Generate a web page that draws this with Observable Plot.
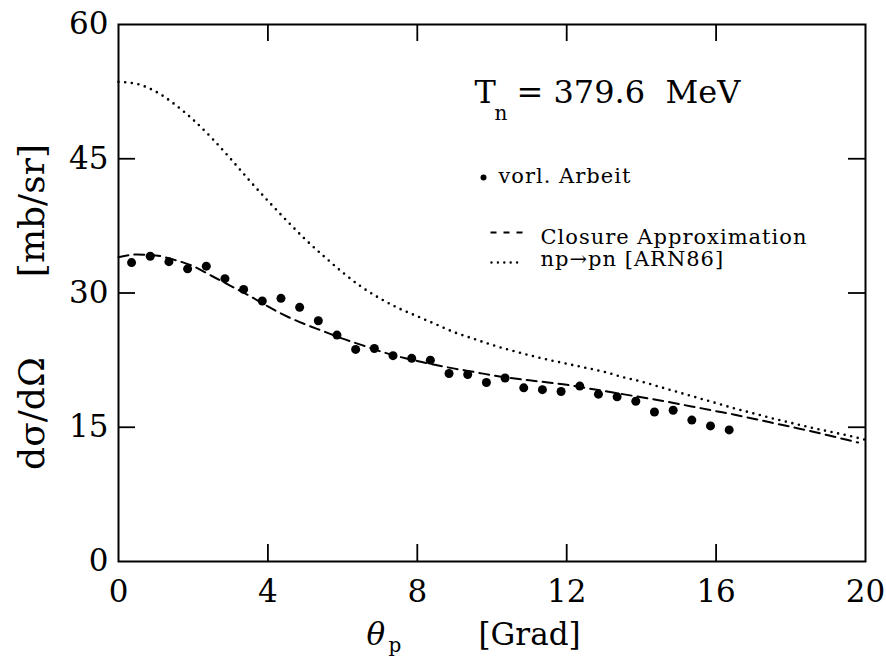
<!DOCTYPE html>
<html>
<head>
<meta charset="utf-8">
<script src="https://cdn.jsdelivr.net/npm/d3@7"></script>
<script src="https://cdn.jsdelivr.net/npm/@observablehq/plot@0.6"></script>
<style>
  html, body { margin: 0; padding: 0; background: #fff; }
  .legtext text { letter-spacing: 1px; }
</style>
</head>
<body>
<div id="chart"></div>
<script>
// Measured data (vorl. Arbeit)
const thetaData = [0.35, 0.85, 1.35, 1.85, 2.35, 2.85, 3.35, 3.85, 4.35, 4.85, 5.35, 5.85, 6.35, 6.85, 7.35, 7.85, 8.35, 8.85, 9.35, 9.85, 10.35, 10.85, 11.35, 11.85, 12.35, 12.85, 13.35, 13.85, 14.35, 14.85, 15.35, 15.85, 16.35];
const sigmaData = [33.4, 34.1, 33.5, 32.7, 33.0, 31.6, 30.4, 29.1, 29.4, 28.4, 26.9, 25.3, 23.7, 23.8, 23.0, 22.7, 22.5, 21.0, 20.9, 20.0, 20.5, 19.4, 19.2, 19.0, 19.6, 18.7, 18.4, 17.9, 16.7, 16.9, 15.8, 15.15, 14.7];

// Closure Approximation (dashed)
const closureTheta = [0, 0.5, 1, 1.5, 2, 2.5, 3, 3.5, 4, 4.5, 5, 5.5, 6, 6.5, 7, 7.5, 8, 8.5, 9, 9.5, 10, 10.5, 11, 11.5, 12, 12.5, 13, 13.5, 14, 14.5, 15, 15.5, 16, 16.5, 17, 17.5, 18, 18.5, 19, 19.5, 19.8];
const closureSigma = [34.0, 34.3, 34.2, 33.7, 33.0, 31.9, 30.8, 29.7, 28.5, 27.4, 26.5, 25.7, 24.9, 24.2, 23.5, 22.9, 22.4, 21.95, 21.55, 21.2, 20.8, 20.5, 20.25, 20.0, 19.75, 19.4, 19.05, 18.7, 18.35, 18.0, 17.6, 17.2, 16.8, 16.4, 15.95, 15.5, 15.05, 14.6, 14.1, 13.6, 13.3];

// np -> pn [ARN86] (dotted)
const arnTheta = [0, 0.5, 1, 1.5, 2, 2.5, 3, 3.5, 4, 4.5, 5, 5.5, 6, 6.5, 7, 7.5, 8, 8.5, 9, 9.5, 10, 10.5, 11, 11.5, 12, 12.5, 13, 13.5, 14, 14.5, 15, 15.5, 16, 16.5, 17, 17.5, 18, 18.5, 19, 19.5, 20];
const arnSigma = [53.6, 53.35, 52.5, 51.1, 49.35, 47.3, 45.0, 42.6, 40.3, 38.1, 36.0, 34.1, 32.3, 30.7, 29.4, 28.3, 27.4, 26.5, 25.6, 24.9, 24.2, 23.6, 23.05, 22.55, 22.1, 21.65, 21.2, 20.6, 20.1, 19.5, 18.9, 18.3, 17.7, 17.1, 16.55, 16.0, 15.5, 15.0, 14.55, 14.1, 13.6];

// Ticks and labels
const xTicks = [0, 4, 8, 12, 16, 20];
const yTicks = [0, 15, 30, 45, 60];
const xInnerTicks = [4, 8, 12, 16];
const yInnerTicks = [15, 30, 45];
const yLabelText = "d\u03C3/d\u03A9\u00A0\u00A0\u00A0\u00A0\u00A0\u00A0\u00A0[mb/sr]";
const xLabelSymbol = "\u03B8";
const xLabelSub = "p";
const xLabelUnit = "[Grad]";
const annT = "T";
const annSub = "n";
const annRest = "= 379.6\u00A0\u00A0MeV";
const legendLabels = ["vorl. Arbeit", "Closure Approximation", "np\u2192pn [ARN86]"];

const points = thetaData.map((t, i) => ({theta: t, sigma: sigmaData[i]}));
const closure = closureTheta.map((t, i) => ({theta: t, sigma: closureSigma[i]}));
const arn = arnTheta.map((t, i) => ({theta: t, sigma: arnSigma[i]}));

const W = 886, H = 662;
const mL = 118, mR = 21, mT = 24, mB = 101;
const plotW = W - mL - mR, plotH = H - mT - mB;
const tickLen = 17;
const sampleLen = 32;
const serif = "DejaVu Serif";
// legend sample: a horizontal segment drawn as a custom symbol
const segSymbol = {draw(ctx) { ctx.moveTo(0, 0); ctx.lineTo(sampleLen, 0); }};

const chart = Plot.plot({
  width: W, height: H,
  marginLeft: mL, marginRight: mR, marginTop: mT, marginBottom: mB,
  style: {fontFamily: serif, color: "black", background: "white"},
  x: {domain: [0, 20]},
  y: {domain: [0, 60]},
  marks: [
    // tick labels
    Plot.axisX({ticks: xTicks, tickSize: 0, tickPadding: 18, fontSize: 31, fontFamily: serif, label: null, fill: "black"}),
    Plot.axisY({ticks: yTicks, tickSize: 0, tickPadding: 10, fontSize: 31, fontFamily: serif, label: null, fill: "black"}),
    // inward ticks
    Plot.tickX(xInnerTicks, {x: d => d, insetTop: plotH - tickLen, stroke: "black", strokeWidth: 1.8}),
    Plot.tickX(xInnerTicks, {x: d => d, insetBottom: plotH - tickLen, stroke: "black", strokeWidth: 1.8}),
    Plot.tickY(yInnerTicks, {y: d => d, insetRight: plotW - tickLen, stroke: "black", strokeWidth: 1.8}),
    Plot.tickY(yInnerTicks, {y: d => d, insetLeft: plotW - tickLen, stroke: "black", strokeWidth: 1.8}),
    Plot.frame({stroke: "black", strokeWidth: 2}),
    // curves
    Plot.line(arn, {x: "theta", y: "sigma", curve: "monotone-x", stroke: "black", strokeWidth: 2.6, strokeDasharray: "0,6.7", strokeLinecap: "round"}),
    Plot.line(closure, {x: "theta", y: "sigma", curve: "monotone-x", stroke: "black", strokeWidth: 2, strokeDasharray: "10,6"}),
    Plot.dot(points, {x: "theta", y: "sigma", r: 4.5, fill: "black", stroke: "none"}),
    // axis labels
    Plot.text([yLabelText], {text: d => d, frameAnchor: "left", rotate: -90, dx: 43 - mL, dy: 14, lineAnchor: "bottom", textAnchor: "middle", fontSize: 36, fontFamily: serif, fill: "black"}),
    Plot.text([xLabelSymbol], {text: d => d, frameAnchor: "bottom-left", dx: 366 - mL, dy: 83, lineAnchor: "bottom", textAnchor: "start", fontSize: 31, fontStyle: "italic", fontFamily: serif, fill: "black"}),
    Plot.text([xLabelSub], {text: d => d, frameAnchor: "bottom-left", dx: 388 - mL, dy: 90, lineAnchor: "bottom", textAnchor: "start", fontSize: 20, fontFamily: serif, fill: "black"}),
    Plot.text([xLabelUnit], {text: d => d, frameAnchor: "bottom-left", dx: 478 - mL, dy: 83, lineAnchor: "bottom", textAnchor: "start", fontSize: 31, fontFamily: serif, fill: "black"}),
    // annotation T_n = 379.6 MeV
    Plot.text([annT], {text: d => d, frameAnchor: "top-left", dx: 474 - mL, dy: 102 - mT, lineAnchor: "bottom", textAnchor: "start", fontSize: 32, fontFamily: serif, fill: "black"}),
    Plot.text([annSub], {text: d => d, frameAnchor: "top-left", dx: 494 - mL, dy: 119 - mT, lineAnchor: "bottom", textAnchor: "start", fontSize: 20, fontFamily: serif, fill: "black"}),
    Plot.text([annRest], {text: d => d, frameAnchor: "top-left", dx: 516 - mL, dy: 102 - mT, lineAnchor: "bottom", textAnchor: "start", fontSize: 32, fontFamily: serif, fill: "black"}),
    // legend
    Plot.dot([legendLabels[0]], {frameAnchor: "top-left", dx: 483 - mL, dy: 177 - mT, r: 3, fill: "black", stroke: "none"}),
    Plot.text([legendLabels[0]], {text: d => d, frameAnchor: "top-left", dx: 498 - mL, dy: 182 - mT, lineAnchor: "bottom", textAnchor: "start", fontSize: 21, fontFamily: serif, fill: "black", className: "legtext"}),
    Plot.dot([legendLabels[1]], {frameAnchor: "top-left", dx: 490 - mL, dy: 232 - mT, symbol: segSymbol, r: 5, fill: "none", stroke: "black", strokeWidth: 2, strokeDasharray: "6,7"}),
    Plot.text([legendLabels[1]], {text: d => d, frameAnchor: "top-left", dx: 540 - mL, dy: 243 - mT, lineAnchor: "bottom", textAnchor: "start", fontSize: 21, fontFamily: serif, fill: "black", className: "legtext"}),
    Plot.dot([legendLabels[2]], {frameAnchor: "top-left", dx: 491 - mL, dy: 262 - mT, symbol: segSymbol, r: 5, fill: "none", stroke: "black", strokeWidth: 2.4, strokeDasharray: "0,6.4", strokeLinecap: "round"}),
    Plot.text([legendLabels[2]], {text: d => d, frameAnchor: "top-left", dx: 540 - mL, dy: 265 - mT, lineAnchor: "bottom", textAnchor: "start", fontSize: 21, fontFamily: serif, fill: "black", className: "legtext"})
  ]
});
document.getElementById("chart").append(chart);
</script>
</body>
</html>
